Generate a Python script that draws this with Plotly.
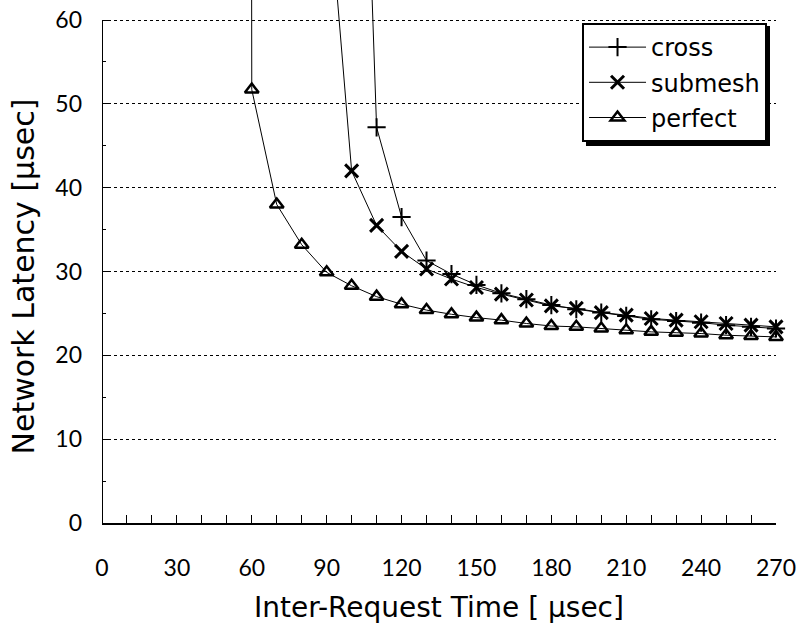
import plotly.graph_objects as go

# Inter-request time (usec) and resulting network latency (usec)
x_cross = [100, 110, 120, 130, 140, 150, 160, 170, 180, 190, 200, 210, 220, 230, 240, 250, 260, 270]
y_cross = [133, 47.2, 36.5, 31.3, 29.7, 28.4, 27.4, 26.7, 26.0, 25.5, 25.1, 24.7, 24.3, 24.1, 23.9, 23.6, 23.4, 23.2]

x_submesh = [90, 100, 110, 120, 130, 140, 150, 160, 170, 180, 190, 200, 210, 220, 230, 240, 250, 260, 270]
y_submesh = [78, 42.0, 35.5, 32.4, 30.3, 29.1, 28.1, 27.3, 26.6, 25.9, 25.6, 25.1, 24.8, 24.4, 24.2, 24.0, 23.8, 23.6, 23.4]

x_perfect = [50, 60, 70, 80, 90, 100, 110, 120, 130, 140, 150, 160, 170, 180, 190, 200, 210, 220, 230, 240, 250, 260, 270]
y_perfect = [2000, 51.7, 38.0, 33.2, 29.9, 28.3, 27.0, 26.1, 25.4, 24.9, 24.5, 24.2, 23.8, 23.5, 23.4, 23.2, 23.0, 22.8, 22.7, 22.6, 22.4, 22.3, 22.2]

y_ticks = [0, 10, 20, 30, 40, 50, 60]
x_ticks = [0, 30, 60, 90, 120, 150, 180, 210, 240, 270]

TICK_FONT = "Lato"
TEXT_FONT = "DejaVu Sans"
fig = go.Figure()

def add_series(xs, ys, name, symbol, size, lw):
    fig.add_trace(go.Scatter(
        x=xs, y=ys, name=name, mode="lines+markers", legendgroup=name,
        line=dict(color="black", width=1),
        marker=dict(symbol=symbol, size=size, color="black",
                    line=dict(color="black", width=lw)),
        cliponaxis=False,
    ))

add_series(x_cross, y_cross, "cross", "cross-thin-open", 13, 2)
add_series(x_submesh, y_submesh, "submesh", "x-thin-open", 13, 3)
add_series(x_perfect, y_perfect, "perfect", "triangle-up-open", 12, 2.5)

# y axis line stops at the top tick; the plot area continues above it
fig.add_shape(type="line", xref="x", yref="y", x0=0, x1=0, y0=0, y1=60,
              line=dict(color="black", width=2))

# legend drop shadow
fig.add_shape(type="rect", xref="paper", yref="paper",
              x0=0.7181, x1=0.9911, y0=0.7209, y1=0.9503,
              fillcolor="black", line=dict(width=0), layer="above")

# y axis title, centred on the 0-60 span of the axis line
fig.add_annotation(text="Network Latency [\u03bcsec]", textangle=-90,
                   xref="paper", yref="y", x=0, y=30, xanchor="center", yanchor="middle",
                   xshift=-78, yshift=-5, showarrow=False,
                   font=dict(family=TEXT_FONT, size=30, color="black"))

fig.update_layout(
    width=799, height=637,
    margin=dict(l=102, r=23, t=0, b=114),
    paper_bgcolor="white", plot_bgcolor="white",
    font=dict(family=TEXT_FONT, color="black", size=23),
    showlegend=True,
    legend=dict(x=0.7122, y=0.956, xanchor="left", yanchor="top",
                bgcolor="white", bordercolor="black", borderwidth=2,
                font=dict(family=TEXT_FONT, size=24, color="black"),
                tracegroupgap=1, itemwidth=57),
    xaxis=dict(
        range=[0, 270], tickvals=x_ticks, ticktext=[str(v) for v in x_ticks],
        showgrid=False, zeroline=False,
        showline=True, linecolor="black", linewidth=2,
        ticks="inside", ticklen=8, tickwidth=1, tickcolor="black",
        minor=dict(dtick=10, tick0=0, ticks="inside", ticklen=8, tickwidth=1,
                   tickcolor="black", showgrid=False),
        ticklabelstandoff=23,
        tickfont=dict(family=TICK_FONT, size=23),
        title=dict(text="Inter-Request Time [ \u03bcsec]",
                   font=dict(family=TEXT_FONT, size=28), standoff=18),
    ),
    yaxis=dict(
        range=[0, 62.39], tickvals=y_ticks, ticktext=[str(v) for v in y_ticks],
        showgrid=True, gridcolor="black", griddash="dot", gridwidth=1,
        zeroline=False, showline=False,
        ticks="inside", ticklen=7, tickwidth=1, tickcolor="black",
        minor=dict(tickvals=[5, 15, 25, 35, 45, 55], ticks="inside", ticklen=4,
                   tickwidth=1, tickcolor="black", showgrid=False),
        ticklabelstandoff=19,
        tickfont=dict(family=TICK_FONT, size=23),
    ),
)

fig.write_html("out.html")
